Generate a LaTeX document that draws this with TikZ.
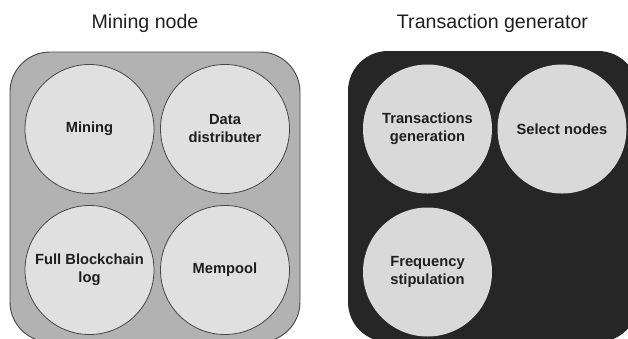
\documentclass[tikz,border=0pt]{standalone}
\usepackage{fontspec}
\setmainfont{Liberation Sans}
\definecolor{minebg}{RGB}{178,178,178}
\definecolor{mineedge}{RGB}{70,70,70}
\definecolor{minecirc}{RGB}{224,224,224}
\definecolor{genbg}{RGB}{38,38,38}
\definecolor{gencirc}{RGB}{217,217,217}
\definecolor{txt}{RGB}{30,30,30}
\tikzset{
  title/.style={font=\fontsize{19.6}{23}\selectfont, text=txt, anchor=center},
  panel/.style={rounded corners=40pt, line width=0.9pt},
  unit/.style={circle, minimum size=129pt, inner sep=0pt, align=center,
    font=\fontsize{14.7}{18}\selectfont\bfseries, text=txt},
  mineunit/.style={unit, fill=minecirc, draw=mineedge, line width=0.8pt},
  genunit/.style={unit, fill=gencirc}
}
\begin{document}
\begin{tikzpicture}[x=1pt, y=-1pt]
\useasboundingbox (0,0) rectangle (628,338);
\clip (0,0) rectangle (628,338);
\node[title] (t1) at (145,23) {Mining node};
\node[title] (t2) at (492.5,23) {Transaction generator};
\draw[panel, fill=minebg, draw=mineedge] (10,52) rectangle (300,342);
\fill[panel, genbg] (348,51) rectangle (638,342);
\node[mineunit] (mining) at (89.5,129) {Mining};
\node[mineunit] (dist) at (225,129) {Data\\distributer};
\node[mineunit] (log) at (89.5,270) {Full Blockchain\\log};
\node[mineunit] (mem) at (225,270) {Mempool};
\node[genunit] (tgen) at (427.5,129) {Transactions\\generation};
\node[genunit] (sel) at (562,129) {Select nodes};
\node[genunit] (freq) at (427.5,272) {Frequency\\stipulation};
\end{tikzpicture}
\end{document}
